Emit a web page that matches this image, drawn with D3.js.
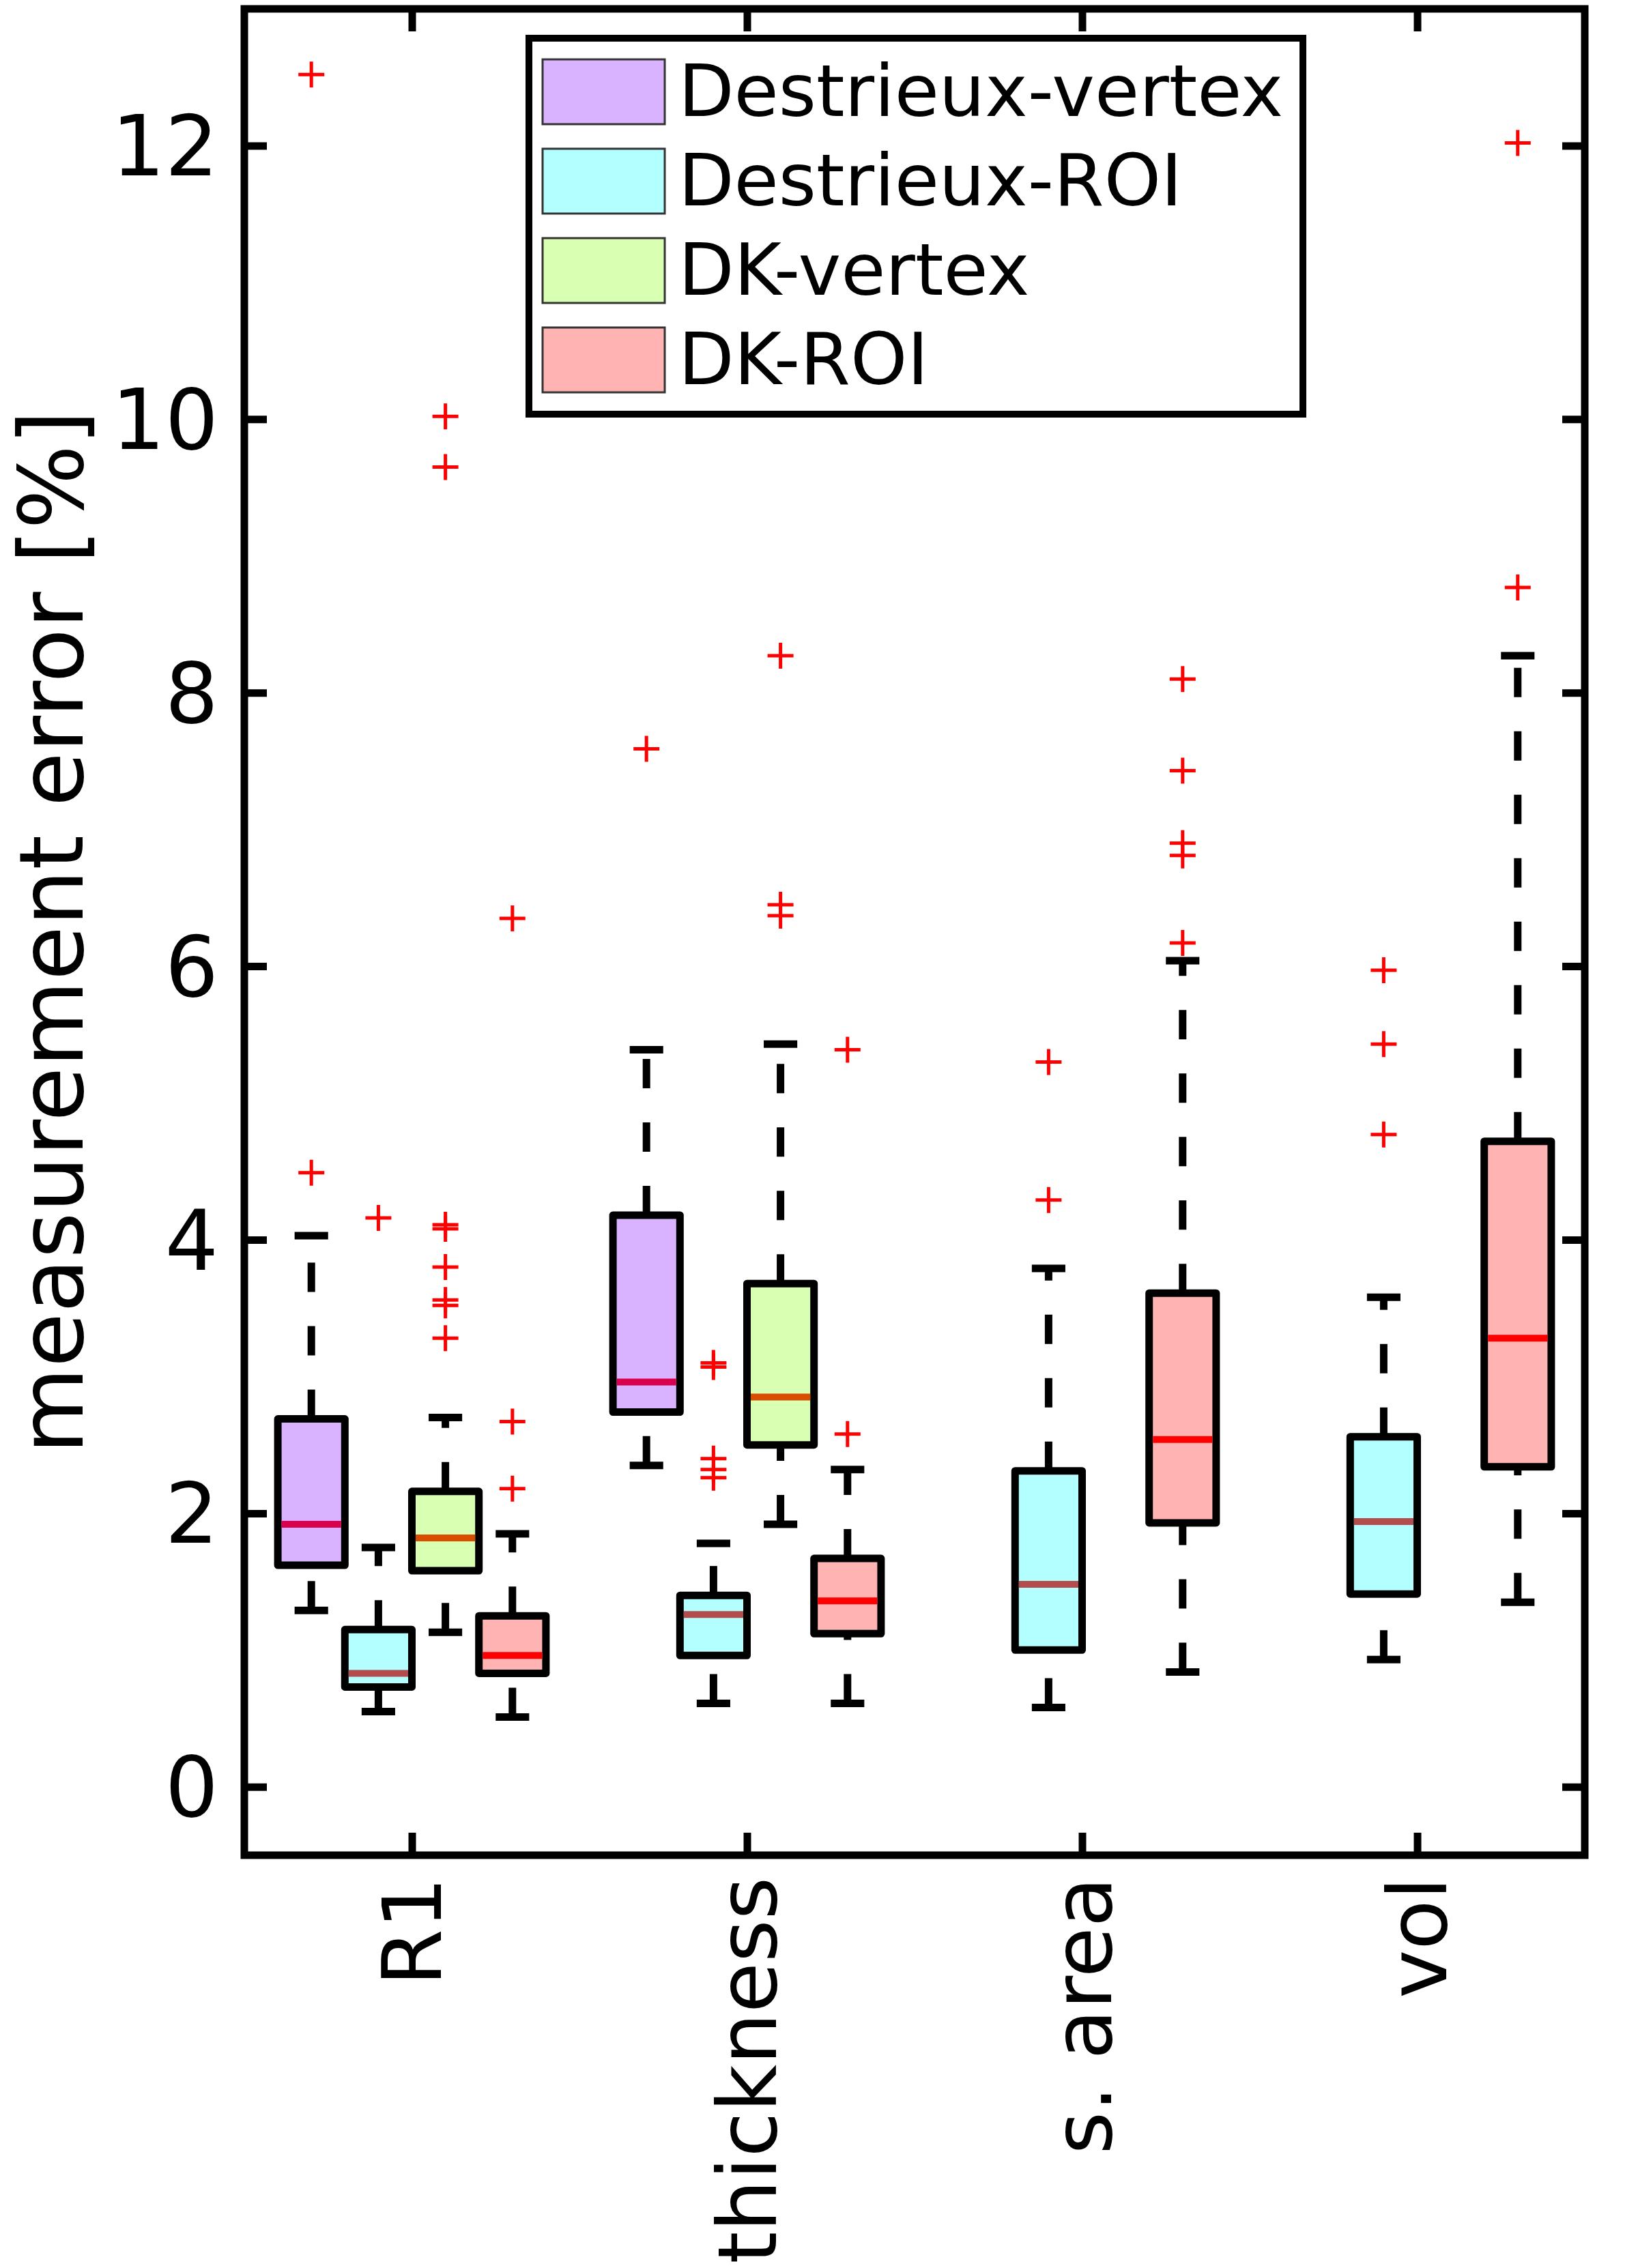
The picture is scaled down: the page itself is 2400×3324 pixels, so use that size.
<!DOCTYPE html>
<html>
<head>
<meta charset="utf-8">
<script src="https://cdn.jsdelivr.net/npm/d3@7"></script>
<style>
  html, body { margin: 0; padding: 0; background: #ffffff; }
  svg { display: block; }
  text { font-family: "DejaVu Sans", sans-serif; fill: #000; }
</style>
</head>
<body>
<svg id="chart" width="2400" height="3324"></svg>
<script>
// ---------------- data ----------------
const categories = ["R1", "thickness", "s. area", "vol"];
const seriesNames = ["Destrieux-vertex", "Destrieux-ROI", "DK-vertex", "DK-ROI"];
const yTickValues = [0, 2, 4, 6, 8, 10, 12];

// per category: [lower whisker, Q1, median, Q3, upper whisker]; null = not shown
const destrieuxVertexStats = [[1.29, 1.62, 1.92, 2.69, 4.03], [2.35, 2.74, 2.96, 4.18, 5.39], null, null];
const destrieuxROIStats    = [[0.55, 0.73, 0.83, 1.15, 1.75], [0.61, 0.96, 1.26, 1.40, 1.78], [0.58, 1.00, 1.48, 2.31, 3.79], [0.93, 1.41, 1.94, 2.56, 3.58]];
const dkVertexStats        = [[1.13, 1.58, 1.82, 2.16, 2.70], [1.92, 2.50, 2.85, 3.68, 5.43], null, null];
const dkROIStats           = [[0.51, 0.83, 0.96, 1.25, 1.85], [0.61, 1.12, 1.36, 1.67, 2.32], [0.84, 1.93, 2.54, 3.61, 6.04], [1.35, 2.34, 3.28, 4.72, 8.27]];

// outliers per category
const destrieuxVertexOutliers = [[12.52, 4.49], [7.59], [], []];
const destrieuxROIOutliers    = [[4.16], [3.10, 3.07, 2.40, 2.32, 2.26], [5.30, 4.29], [5.97, 5.43, 4.77]];
const dkVertexOutliers        = [[10.02, 9.65, 4.11, 4.08, 3.80, 3.56, 3.52, 3.28], [8.27, 6.45, 6.37], [], []];
const dkROIOutliers           = [[6.35, 2.67, 2.18], [5.39, 2.58], [8.10, 7.43, 6.90, 6.81, 6.17], [12.02, 8.77]];

// ---------------- styles ----------------
const seriesStats = [destrieuxVertexStats, destrieuxROIStats, dkVertexStats, dkROIStats];
const seriesOutliers = [destrieuxVertexOutliers, destrieuxROIOutliers, dkVertexOutliers, dkROIOutliers];
const fillColors = ["#d9b3ff", "#b3ffff", "#d9ffb3", "#ffb3b3"];
const medianColors = ["#d9004d", "#b34d4d", "#d94d00", "#ff0000"];
const seriesOffset = [-0.3, -0.1, 0.1, 0.3];
const boxWidth = 0.2, capWidth = 0.1;

const svg = d3.select("#chart");
svg.append("rect").attr("width", 2400).attr("height", 3324).attr("fill", "#fff");

const plot = { left: 358, right: 2322, top: 13, bottom: 2719 };
const x = d3.scaleLinear().domain([0.5, 4.5]).range([plot.left, plot.right]);
const y = d3.scaleLinear().domain([-0.5, 13]).range([plot.bottom, plot.top]);

const LW = 11;

// ---------------- boxes ----------------
const gBoxes = svg.append("g");
seriesStats.forEach((stats, si) => {
  stats.forEach((s, ci) => {
    if (!s) return;
    const [lo, q1, med, q3, hi] = s;
    const cx = x(ci + 1 + seriesOffset[si]);
    const g = gBoxes.append("g");
    // whiskers (dashed, drawn from lower value upward)
    g.append("line").attr("x1", cx).attr("x2", cx).attr("y1", y(q3)).attr("y2", y(hi))
      .attr("stroke", "#000").attr("stroke-width", LW).attr("stroke-dasharray", "43,50");
    g.append("line").attr("x1", cx).attr("x2", cx).attr("y1", y(lo)).attr("y2", y(q1))
      .attr("stroke", "#000").attr("stroke-width", LW).attr("stroke-dasharray", "43,50");
    // caps
    const cw = x(1 + capWidth / 2) - x(1);
    [lo, hi].forEach(v => {
      g.append("line").attr("x1", cx - cw).attr("x2", cx + cw).attr("y1", y(v)).attr("y2", y(v))
        .attr("stroke", "#000").attr("stroke-width", LW);
    });
    // box
    const bw = x(1 + boxWidth / 2) - x(1);
    g.append("rect").attr("x", cx - bw).attr("y", y(q3)).attr("width", 2 * bw).attr("height", y(q1) - y(q3))
      .attr("fill", fillColors[si]).attr("stroke", "#000").attr("stroke-width", LW)
      .attr("stroke-linejoin", "round");
    // median
    g.append("line").attr("x1", cx - bw + LW / 2).attr("x2", cx + bw - LW / 2).attr("y1", y(med)).attr("y2", y(med))
      .attr("stroke", medianColors[si]).attr("stroke-width", 10);
  });
});

// ---------------- outliers ----------------
const gOut = svg.append("g");
seriesOutliers.forEach((outs, si) => {
  outs.forEach((list, ci) => {
    const cx = x(ci + 1 + seriesOffset[si]);
    list.forEach(v => {
      gOut.append("path")
        .attr("d", `M${cx - 19},${y(v)}H${cx + 19}M${cx},${y(v) - 19}V${y(v) + 19}`)
        .attr("stroke", "#ff0000").attr("stroke-width", 5).attr("fill", "none");
    });
  });
});

// ---------------- axes ----------------
const tickLen = 33;
const styleAxis = g => {
  g.select(".domain").remove();
  g.selectAll(".tick line").attr("stroke", "#000").attr("stroke-width", LW);
};
svg.append("g").attr("transform", `translate(${plot.left},0)`)
  .call(d3.axisLeft(y).tickValues(yTickValues).tickSizeInner(-tickLen).tickSizeOuter(0).tickPadding(38))
  .call(styleAxis)
  .call(g => g.selectAll(".tick text").attr("font-size", 123).attr("dy", "0.35em")
    .attr("font-family", "DejaVu Sans"));
svg.append("g").attr("transform", `translate(${plot.right},0)`)
  .call(d3.axisRight(y).tickValues(yTickValues).tickSizeInner(-tickLen).tickSizeOuter(0).tickFormat(""))
  .call(styleAxis);
svg.append("g").attr("transform", `translate(0,${plot.bottom})`)
  .call(d3.axisBottom(x).tickValues([1, 2, 3, 4]).tickSizeInner(-tickLen).tickSizeOuter(0)
    .tickFormat(d => categories[d - 1]))
  .call(styleAxis)
  .call(g => g.selectAll(".tick text")
    .attr("font-size", 120).attr("font-family", "DejaVu Sans")
    .attr("transform", "rotate(-90)").attr("text-anchor", "end")
    .attr("x", -32).attr("y", 42).attr("dy", null));
svg.append("g").attr("transform", `translate(0,${plot.top})`)
  .call(d3.axisTop(x).tickValues([1, 2, 3, 4]).tickSizeInner(-tickLen).tickSizeOuter(0).tickFormat(""))
  .call(styleAxis);

// frame
svg.append("rect").attr("x", plot.left).attr("y", plot.top)
  .attr("width", plot.right - plot.left).attr("height", plot.bottom - plot.top)
  .attr("fill", "none").attr("stroke", "#000").attr("stroke-width", LW);

// y label
svg.append("text").attr("transform", `translate(121,${(plot.top + plot.bottom) / 2}) rotate(-90)`)
  .attr("text-anchor", "middle").attr("font-size", 130).text("measurement error [%]");

// ---------------- legend ----------------
const lg = svg.append("g");
lg.append("rect").attr("x", 775).attr("y", 56).attr("width", 1134).attr("height", 551)
  .attr("fill", "#fff").attr("stroke", "#000").attr("stroke-width", 10);
seriesNames.forEach((name, i) => {
  const top = 87 + i * 131;
  lg.append("rect").attr("x", 795).attr("y", top).attr("width", 179).attr("height", 95)
    .attr("fill", fillColors[i]).attr("stroke", "#333").attr("stroke-width", 3);
  lg.append("text").attr("x", 994).attr("y", top + 83).attr("font-size", 106).text(name);
});
</script>
</body>
</html>
